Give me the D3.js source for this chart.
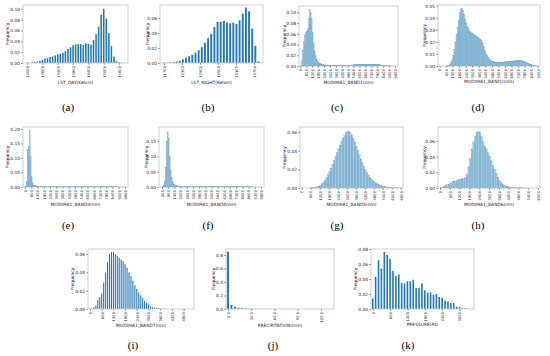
<!DOCTYPE html>
<html><head><meta charset="utf-8">
<script src="https://cdn.jsdelivr.net/npm/d3@7"></script>
<style>html,body{margin:0;padding:0;background:#fff;} svg{display:block;}</style>
</head><body>
<svg id="chart" width="550" height="356"></svg>
<script>
// ---------------- DATA ----------------
// (a) LST_DAY
const aStart = 12000, aStep = 100;
const aFreq = [0.0003,0.0005,0.001,0.002,0.003,0.004,0.006,0.008,0.009,0.011,
  0.012,0.014,0.016,0.017,0.019,0.022,0.026,0.029,0.033,0.034,
  0.035,0.035,0.033,0.036,0.035,0.034,0.042,0.053,0.067,0.089,
  0.100,0.082,0.055,0.031,0.012,0.004,0.001,0.0005];
const aXTicks = [12000,12600,13200,13800,14400,15000,15600];
const aYTicks = [0,0.02,0.04,0.06,0.08,0.10];

// (b) LST_NIGHT
const bStart = 11700, bStep = 105;
const bFreq = [0.0003,0.0005,0.0008,0.001,0.002,0.003,0.005,0.007,0.009,0.011,
  0.014,0.017,0.021,0.027,0.033,0.039,0.048,0.055,0.055,0.056,
  0.054,0.053,0.054,0.052,0.057,0.066,0.074,0.069,0.046,0.023,0.002];
const bXTicks = [11700,12300,12900,13500,14100,14700];
const bYTicks = [0,0.02,0.04,0.06];

// (c) BAND1
const cStart = 0, cStep = 100;
const cFreq = [0.001,0.01,0.03,0.046,0.058,0.062,0.065,0.07,0.088,0.105,
  0.1,0.088,0.062,0.042,0.028,0.019,0.013,0.009,0.007,0.005,
  0.004,0.003,0.003,0.0025,0.002,0.002,0.0018,0.0016,0.0015,0.0014,
  0.0013,0.0012,0.0012,0.0011,0.0011,0.001,0.001,0.001,0.001,0.001,
  0.001,0.001,0.0011,0.0011,0.0012,0.0012,0.0013,0.0014,0.0015,0.0016,
  0.0017,0.0018,0.002,0.0021,0.0022,0.0023,0.0024,0.0025,0.0026,0.0027,
  0.0028,0.0029,0.003,0.003,0.0031,0.0031,0.0032,0.0032,0.0032,0.0033,
  0.0033,0.0033,0.0033,0.0032,0.0032,0.0031,0.003,0.0029,0.0027,0.0025,
  0.0023,0.002,0.0018,0.0015,0.0012,0.001,0.0008,0.0006,0.0004,0.0003,
  0.0002,0.0001,0.0001,0.0001,0.00005,0,0,0];
const cXTicks = [0,600,1200,1800,2400,3000,3600,4200,4800,5400,6000,6600,7200,7800,8400,9000,9600];
const cYTicks = [0,0.02,0.04,0.06,0.08,0.10];

// (d) BAND2
const dStart = 0, dStep = 100;
const dFreq = [0,0,0,0,0,0.0001,0.0002,0.0004,0.0008,0.0015,
  0.003,0.005,0.009,0.014,0.02,0.026,0.032,0.038,0.044,0.047,
  0.048,0.046,0.043,0.039,0.036,0.033,0.031,0.029,0.028,0.027,
  0.027,0.026,0.025,0.025,0.024,0.024,0.023,0.022,0.021,0.019,
  0.016,0.013,0.011,0.009,0.0075,0.0062,0.0052,0.0045,0.004,0.0036,
  0.0033,0.0031,0.003,0.003,0.003,0.003,0.0031,0.0032,0.0033,0.0034,
  0.0035,0.0036,0.0037,0.0038,0.0039,0.004,0.0041,0.0042,0.0043,0.0044,
  0.0045,0.0046,0.0046,0.0046,0.0045,0.0044,0.0041,0.0038,0.0034,0.003,
  0.0026,0.0021,0.0017,0.0013,0.001,0.0007,0.0005,0.0003,0.0002,0.0001,0.0001];
const dXTicks = [0,600,1200,1800,2400,3000,3600,4200,4800,5400,6000,6600,7200,7800,8400,9000];
const dYTicks = [0,0.01,0.02,0.03,0.04,0.05];

// (e) BAND3
const eStart = 0, eStep = 100;
const eFreq = [0.002,0.018,0.13,0.14,0.195,0.105,0.035,0.012,0.007,0.005,
  0.004,0.0035,0.003,0.0028,0.0025,0.0023,0.0021,0.002,0.0018,0.0017,
  0.0016,0.0015,0.0014,0.0014,0.0013,0.0013,0.0012,0.0012,0.0011,0.0011,
  0.001,0.001,0.001,0.001,0.001,0.001,0.001,0.001,0.001,0.001,
  0.001,0.001,0.001,0.001,0.001,0.0011,0.0011,0.0011,0.0012,0.0012,
  0.0012,0.0013,0.0013,0.0013,0.0014,0.0014,0.0014,0.0015,0.0015,0.0015,
  0.0016,0.0016,0.0016,0.0017,0.0017,0.0017,0.0018,0.0018,0.0018,0.0019,
  0.0019,0.0019,0.002,0.002,0.002,0.002,0.002,0.002,0.0019,0.0019,
  0.0018,0.0017,0.0016,0.0015,0.0013,0.0011,0.0009,0.0007,0.0005,0.0004,
  0.0003,0.0002,0.0002,0.0001,0.0001,0.0001,0,0];
const eXTicks = [0,600,1200,1800,2400,3000,3600,4200,4800,5400,6000,6600,7200,7800,8400,9000,9600];
const eYTicks = [0,0.05,0.10,0.15,0.20];

// (f) BAND4
const fStart = 0, fStep = 100;
const fFreq = [0,0,0.001,0.005,0.02,0.065,0.15,0.18,0.16,0.1,
  0.055,0.03,0.017,0.01,0.007,0.005,0.0042,0.0036,0.0032,0.003,
  0.0028,0.0026,0.0025,0.0024,0.0023,0.0022,0.0021,0.002,0.002,0.0019,
  0.0019,0.0018,0.0018,0.0018,0.0017,0.0017,0.0017,0.0017,0.0016,0.0016,
  0.0016,0.0016,0.0016,0.0016,0.0016,0.0016,0.0016,0.0016,0.0017,0.0017,
  0.0017,0.0017,0.0017,0.0018,0.0018,0.0018,0.0018,0.0019,0.0019,0.0019,
  0.002,0.002,0.002,0.002,0.0021,0.0021,0.0021,0.0021,0.0021,0.0021,
  0.0021,0.0021,0.0021,0.0021,0.002,0.002,0.002,0.0019,0.0019,0.0018,
  0.0017,0.0016,0.0015,0.0014,0.0012,0.0011,0.0009,0.0008,0.0006,0.0005,
  0.0004,0.0003,0.0003,0.0002,0.0002,0.0001,0.0001,0.0001,0];
const fXTicks = [200,800,1400,2000,2600,3200,3800,4400,5000,5600,6200,6800,7400,8000,8600,9200,9800];
const fYTicks = [0,0.05,0.10,0.15];

// (g) BAND5
const gStart = 0, gStep = 100;
const gFreq = [0,0,0,0,0,0.0001,0.0002,0.0004,0.0007,0.001,
  0.0015,0.0022,0.0032,0.0045,0.0063,0.0085,0.0112,0.0143,0.0178,0.0215,
  0.0255,0.0296,0.0338,0.038,0.0422,0.0462,0.05,0.0537,0.057,0.0595,
  0.061,0.0608,0.0595,0.057,0.0535,0.0495,0.045,0.0405,0.0358,0.0312,
  0.027,0.0232,0.0198,0.0168,0.014,0.0117,0.0098,0.0081,0.0067,0.0055,
  0.0045,0.0037,0.003,0.0024,0.0019,0.0015,0.0012,0.0009,0.0007,0.0005,
  0.0004,0.0003,0.0002,0.0002,0.0001,0.0001,0.0001,0];
const gXTicks = [0,600,1200,1800,2400,3000,3600,4200,4800,5400,6000,6600];
const gYTicks = [0,0.02,0.04,0.06];

// (h) BAND6
const hStart = 0, hStep = 100;
const hFreq = [0.0003,0.001,0.002,0.003,0.004,0.005,0.0065,0.008,0.0087,0.009,
  0.0098,0.0108,0.0115,0.012,0.0125,0.0135,0.018,0.027,0.038,0.05,
  0.059,0.066,0.071,0.073,0.071,0.066,0.059,0.053,0.05,0.045,
  0.04,0.035,0.029,0.024,0.019,0.014,0.01,0.007,0.005,0.0035,
  0.0025,0.0018,0.0013,0.001,0.0008,0.0006,0.0005,0.0004,0.0003,0.0002,
  0.0002,0.0001,0.0001,0.0001,0,0,0,0,0,0];
const hXTicks = [0,600,1200,1800,2400,3000,3600,4200,4800,5400,6000];
const hYTicks = [0,0.02,0.04,0.06];

// (i) BAND7
const iStart = 0, iStep = 100;
const iFreq = [0.0002,0.0005,0.002,0.004,0.0098,0.013,0.017,0.029,0.040,0.051,
  0.060,0.062,0.062,0.060,0.058,0.056,0.054,0.052,0.049,0.045,
  0.040,0.036,0.031,0.026,0.022,0.018,0.015,0.012,0.009,0.007,
  0.005,0.003,0.002,0.0015,0.001,0.0008,0.0005,0.0004,0.0003,0.0002,0.0001];
const iXTicks = [0,600,1200,1800,2400,3000,3600,4200,4800];
const iYTicks = [0,0.02,0.04,0.06];

// (j) PRECIPITATION
const jStart = 0, jStep = 4.5;
const jFreq = [0.85,0.06,0.035,0.02,0.012,0.008,0.005,0.004,0.003,0.002,
  0.0015,0.001,0.001,0.0008,0.0006,0.0005,0.0004,0.0003,0.0003,0.0002,
  0.0002,0.0001,0.0001,0.0001,0.0001,0.0001,0.0001,0.0001,0.0001];
const jXTicks = [0,30,60,90,120];
const jYTicks = [0,0.2,0.4,0.6,0.8];

// (k) PRESSURE
const kStart = 0, kStep = 100;
const kFreq = [0.014,0.043,0.065,0.054,0.076,0.072,0.067,0.051,0.044,0.046,
  0.035,0.034,0.037,0.037,0.039,0.028,0.028,0.034,0.025,0.022,
  0.022,0.019,0.020,0.016,0.015,0.011,0.010,0.008,0.008,0.003,
  0.003,0.001,0.001,0.0005];
const kXTicks = [0,600,1200,1800,2400,3000];
const kYTicks = [0,0.02,0.04,0.06,0.08];

const xLabels = ["LST_DAY(Kelvin)","LST_NIGHT(Kelvin)","MOD09A1_BAND1(nm)","MOD09A1_BAND2(nm)",
  "MOD09A1_BAND3(nm)","MOD09A1_BAND4(nm)","MOD09A1_BAND5(nm)","MOD09A1_BAND6(nm)",
  "MOD09A1_BAND7(nm)","PRECIPITATION(mm)","PRESSURE(Pa)"];
const captions = ["(a)","(b)","(c)","(d)","(e)","(f)","(g)","(h)","(i)","(j)","(k)"];

// ---------------- LAYOUT ----------------
const layout = [
 {freq:aFreq,start:aStart,step:aStep,style:"solid",frac:0.6,xt:aXTicks,yt:aYTicks,xf:"d",yf:".2f",box:[23,128,5,63],xDom:[11840,15950],yMax:0.107,ylx:7,xly:82,cap:[68,107]},
 {freq:bFreq,start:bStart,step:bStep,style:"solid",frac:0.6,xt:bXTicks,yt:bYTicks,xf:"d",yf:".2f",box:[160,263,5,63],xDom:[11567,15000],yMax:0.0775,ylx:147,xly:82,cap:[208,107]},
 {freq:cFreq,start:cStart,step:cStep,style:"soft",xt:cXTicks,yt:cYTicks,xf:"d",yf:".2f",box:[299,398,6,66],xDom:[-140,9900],yMax:0.112,ylx:284,xly:82,cap:[337,107]},
 {freq:dFreq,start:dStart,step:dStep,style:"soft",xt:dXTicks,yt:dYTicks,xf:"d",yf:".2f",box:[438,540,5,66],xDom:[-146,9210],yMax:0.0505,ylx:424,xly:81.5,cap:[478,107]},
 {freq:eFreq,start:eStart,step:eStep,style:"soft",xt:eXTicks,yt:eYTicks,xf:"d",yf:".2f",box:[23,128,127,187],xDom:[-190,9890],yMax:0.207,ylx:7,xly:204,cap:[68,225]},
 {freq:fFreq,start:fStart,step:fStep,style:"soft",xt:fXTicks,yt:fYTicks,xf:"d",yf:".2f",box:[159,264,127,187],xDom:[-90,10090],yMax:0.196,ylx:146,xly:204,cap:[208,225]},
 {freq:gFreq,start:gStart,step:gStep,style:"soft",xt:gXTicks,yt:gYTicks,xf:"d",yf:".2f",box:[300,403,127,188],xDom:[-113,6750],yMax:0.0655,ylx:284,xly:204,cap:[337,225]},
 {freq:hFreq,start:hStart,step:hStep,style:"soft",xt:hXTicks,yt:hYTicks,xf:"d",yf:".2f",box:[438,540,127,188],xDom:[-122,6122],yMax:0.078,ylx:424,xly:204,cap:[478,225]},
 {freq:iFreq,start:iStart,step:iStep,style:"solid",frac:0.55,xt:iXTicks,yt:iYTicks,xf:"d",yf:".2f",box:[88,194,249,309],xDom:[-103,5333],yMax:0.0655,ylx:72,xly:325,cap:[133,345]},
 {freq:jFreq,start:jStart,step:jStep,style:"solid",frac:0.55,xt:jXTicks,yt:jYTicks,xf:".1f",yf:".1f",box:[226,334,249,309],xDom:[-2.6,137],yMax:0.89,ylx:213,xly:325.5,cap:[273,345]},
 {freq:kFreq,start:kStart,step:kStep,style:"solid",frac:0.55,xt:kXTicks,yt:kYTicks,xf:"d",yf:".2f",box:[371,474,249,309],xDom:[-60,3500],yMax:0.08,ylx:355,xly:324,cap:[408,345]}
];

const svg = d3.select("#chart");
const FONT = "DejaVu Sans, sans-serif";
const FS = 4.4;     // axis labels, y tick labels
const FSX = 3.7;    // rotated x tick labels

layout.forEach((p, idx) => {
  const [x0,x1,y0,y1] = p.box;
  const x = d3.scaleLinear().domain(p.xDom).range([x0,x1]);
  const y = d3.scaleLinear().domain([0,p.yMax]).range([y1,y0]);
  const g = svg.append("g");

  const bins = p.freq.map((v,i)=>({x: p.start + i*p.step, v}));
  if (p.style === "solid") {
    const w = (x(p.step) - x(0)) * p.frac;
    g.selectAll("rect.bar").data(bins).enter().append("rect")
      .attr("x", d => x(d.x) - w/2)
      .attr("y", d => y(d.v))
      .attr("width", w)
      .attr("height", d => Math.max(0, y(0) - y(d.v)))
      .attr("fill", "#1f77b4");
  } else {
    g.selectAll("rect.bar").data(bins).enter().append("rect")
      .attr("x", d => x(d.x))
      .attr("y", d => y(d.v))
      .attr("width", d => x(d.x + p.step) - x(d.x))
      .attr("height", d => Math.max(0, y(0) - y(d.v)))
      .attr("fill", "rgba(31,119,180,0.42)")
      .attr("stroke", "rgba(31,119,180,0.5)")
      .attr("stroke-width", 0.25);
  }

  // frame
  g.append("rect").attr("x",x0).attr("y",y0).attr("width",x1-x0).attr("height",y1-y0)
    .attr("fill","none").attr("stroke","#c4c4c4").attr("stroke-width",0.8);

  // x axis
  const xa = g.append("g").attr("transform",`translate(0,${y1})`)
    .call(d3.axisBottom(x).tickValues(p.xt).tickSize(2).tickPadding(1).tickFormat(d3.format(p.xf)));
  xa.select(".domain").remove();
  xa.selectAll(".tick line").attr("stroke","#444").attr("stroke-width",0.5);
  xa.selectAll(".tick text")
    .attr("font-family",FONT).attr("font-size",FSX).attr("fill","#222")
    .attr("transform","rotate(-90)").attr("text-anchor","end")
    .attr("x",-3).attr("y",0).attr("dy","0.35em");

  // y axis
  const ya = g.append("g").attr("transform",`translate(${x0},0)`)
    .call(d3.axisLeft(y).tickValues(p.yt).tickSize(2).tickPadding(1).tickFormat(d3.format(p.yf)));
  ya.select(".domain").remove();
  ya.selectAll(".tick line").attr("stroke","#444").attr("stroke-width",0.5);
  ya.selectAll(".tick text").attr("font-family",FONT).attr("font-size",FS).attr("fill","#222");

  // labels
  g.append("text").attr("transform",`translate(${p.ylx},${(y0+y1)/2}) rotate(-90)`)
    .attr("text-anchor","middle").attr("dy","0.35em")
    .attr("font-family",FONT).attr("font-size",FS).attr("fill","#222").text("Frequency");
  g.append("text").attr("x",(x0+x1)/2).attr("y",p.xly).attr("dy","0.35em")
    .attr("text-anchor","middle").attr("font-family",FONT).attr("font-size",FS).attr("fill","#222")
    .text(xLabels[idx]);
  g.append("text").attr("x",p.cap[0]).attr("y",p.cap[1]).attr("dy","0.35em")
    .attr("text-anchor","middle").attr("font-family","Liberation Serif, Times New Roman, serif")
    .attr("font-size",11).attr("fill","#000").text(captions[idx]);
});
</script></body></html>
